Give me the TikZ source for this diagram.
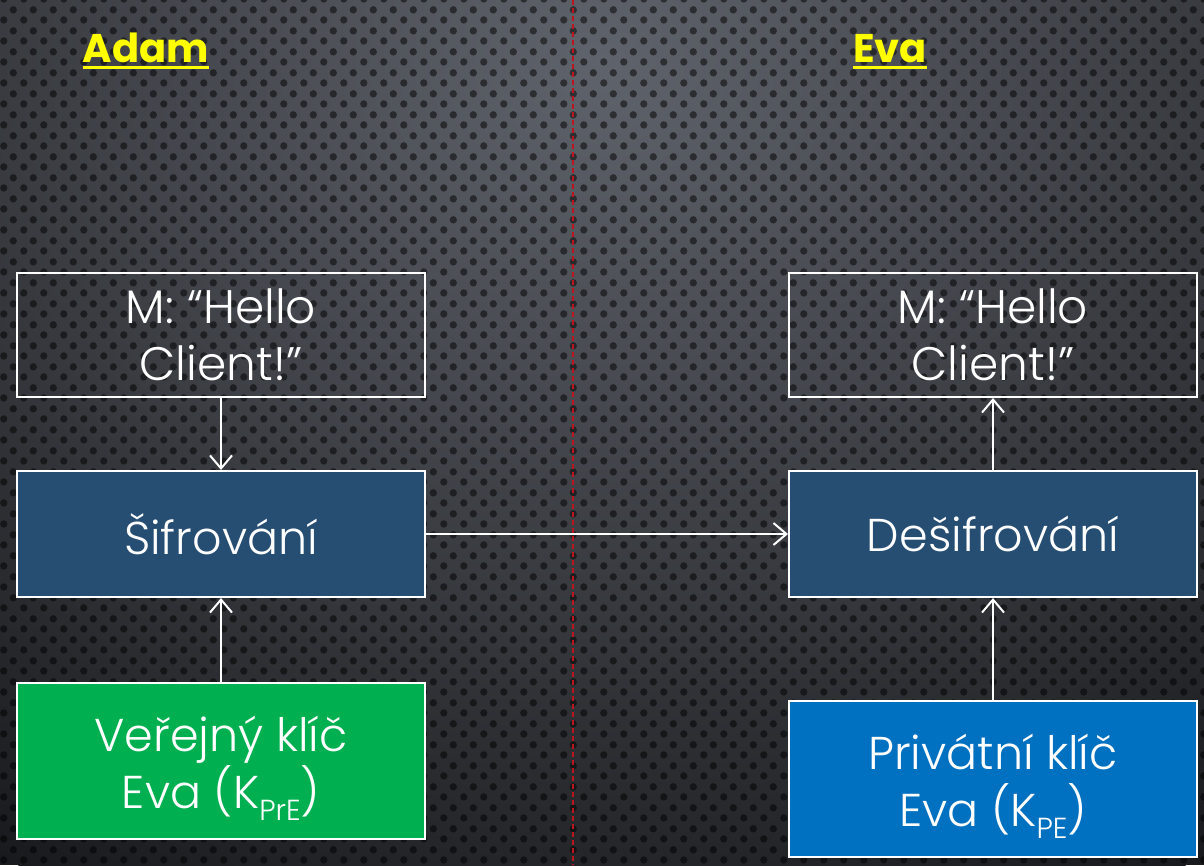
\documentclass[tikz,border=0pt]{standalone}
\usepackage{fontspec}
\setmainfont{Poppins}
\IfFontExistsTF{Poppins Light}{\newfontfamily\boxfont{Poppins Light}}{\newfontfamily\boxfont{Poppins}}
\usetikzlibrary{arrows.meta,patterns.meta}
\definecolor{bgtop}{RGB}{95,99,107}
\definecolor{bgbot}{RGB}{25,26,29}
\definecolor{encblue}{RGB}{38,78,115}
\definecolor{keygreen}{RGB}{0,176,80}
\definecolor{keyblue}{RGB}{0,112,192}
\definecolor{divred}{RGB}{190,20,30}
\definecolor{labyellow}{RGB}{255,255,0}
\tikzdeclarepattern{
  name=bgdots,
  type=uncolored,
  bounding box={(0pt,0pt) and (20pt,20.6pt)},
  tile size={(20pt,20.6pt)},
  code={
    \fill (5pt,5.15pt) circle (3.8pt);
    \fill (15pt,15.45pt) circle (3.8pt);
  }
}
\tikzset{
  boxbase/.style={draw=white, line width=2pt, minimum width=408pt, text=white,
    align=center, inner sep=0pt, font=\boxfont\fontsize{46}{57}\selectfont},
  msgbox/.style={boxbase, minimum height=124pt, font=\boxfont\fontsize{47}{57}\selectfont},
  procbox/.style={boxbase, fill=encblue, minimum height=126pt},
  keybox/.style={boxbase, minimum height=156pt},
  keytext/.style={text=white, align=center, inner sep=0pt, font=\boxfont\fontsize{46}{57}\selectfont},
  conn/.style={draw=white, line width=2pt, -{Straight Barb[length=13pt,width=22pt]}},
  lab/.style={text=labyellow, font=\bfseries\fontsize{40}{48}\selectfont, inner sep=0pt},
  uline/.style={draw=labyellow, line width=3pt},
  divider/.style={draw=divred, line width=1.3pt, dash pattern=on 5pt off 3pt},
}
\newcommand{\ksub}[1]{\raisebox{-12pt}[\height][0pt]{\fontsize{29}{29}\selectfont #1}}
\begin{document}
\begin{tikzpicture}[x=1pt,y=-1pt]
\useasboundingbox (0,0) rectangle (1204,865);
\begin{scope}
  \clip (0,0) rectangle (1204,865);
  \fill[bgbot] (0,0) rectangle (1204,865);
  \shade[inner color=bgtop, outer color=bgbot] (602,60) ellipse (1100pt and 950pt);
  \fill[pattern=bgdots, pattern color=black, opacity=0.5] (0,0) rectangle (1204,865);
\end{scope}
\draw[divider] (573,0) -- (573,865);

\node[lab, anchor=base] (adam) at (146,62) {Adam};
\draw[uline] ([yshift=-5pt]adam.base west) -- ([yshift=-5pt]adam.base east);
\node[lab, anchor=base] (eva) at (890,62) {Eva};
\draw[uline] ([yshift=-5pt]eva.base west) -- ([yshift=-5pt]eva.base east);

\node[msgbox] (mA) at (221,335) {M: “Hello\\Client!”};
\node[procbox] (enc) at (221,534) {Šifrování};
\node[keybox, fill=keygreen] (pub) at (221,761) {};
\node[keytext, anchor=base] (pubtxt) at (221,808) {Veřejný klíč\\Eva (K\ksub{PrE})};

\node[msgbox] (mE) at (993,335) {M: “Hello\\Client!”};
\node[procbox] (dec) at (993,534) {Dešifrování};
\node[keybox, fill=keyblue] (priv) at (993,779) {};
\node[keytext, anchor=base] (privtxt) at (993,826) {Privátní klíč\\Eva (K\ksub{PE})};

\draw[conn] (mA.south) -- (enc.north);
\draw[conn] (pub.north) -- (enc.south);
\draw[conn] (enc.east) -- (dec.west);
\draw[conn] (dec.north) -- (mE.south);
\draw[conn] (priv.north) -- (dec.south);
\end{tikzpicture}
\end{document}
